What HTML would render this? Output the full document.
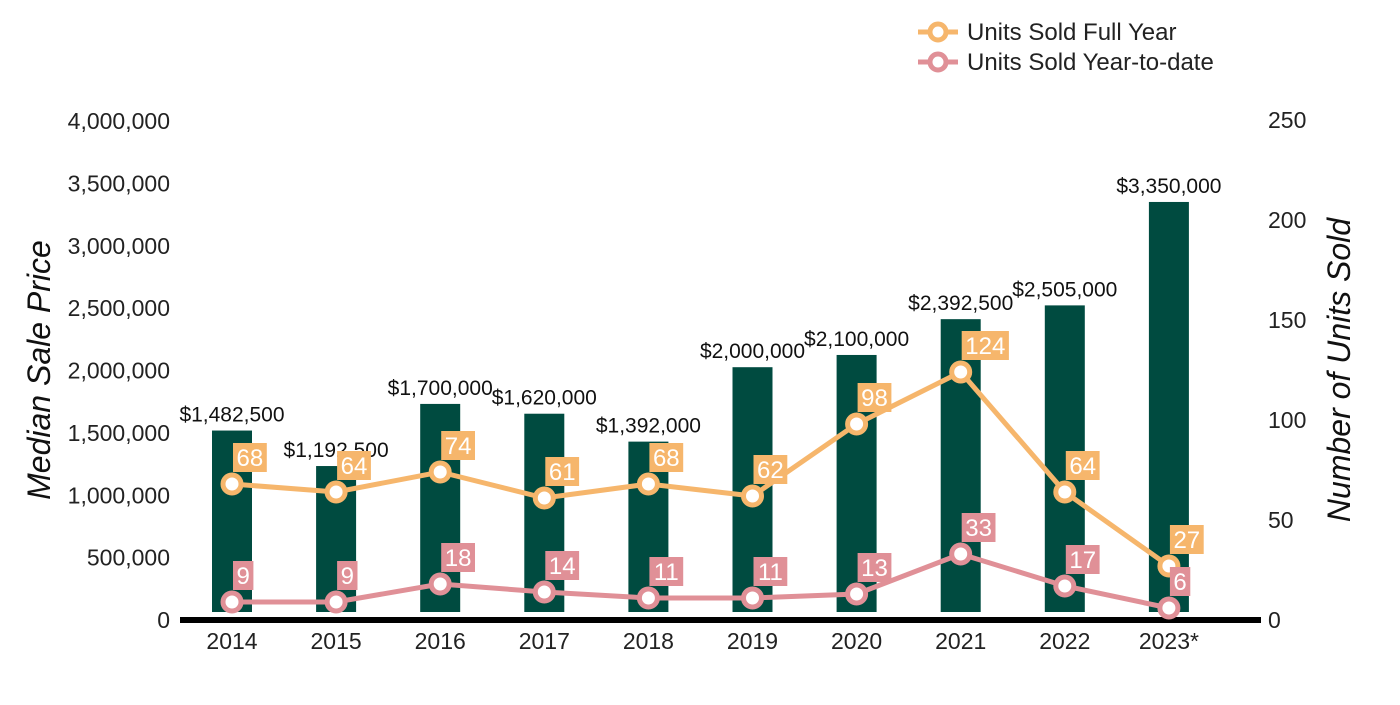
<!DOCTYPE html>
<html><head><meta charset="utf-8"><style>
body{margin:0;background:#fff;}
svg text{font-family:"Liberation Sans",Arial,sans-serif;}
</style></head><body>
<svg id="c" width="1400" height="700" xmlns="http://www.w3.org/2000/svg">
<g id="axes"></g><g id="bars"></g><g id="lines"></g>
<g>
<g>
<line x1="918" y1="32" x2="958" y2="32" stroke="#f6b66c" stroke-width="5"/>
<circle cx="938" cy="32" r="8" fill="#fff" stroke="#f6b66c" stroke-width="5"/>
<text x="967" y="40" font-size="24" fill="#222">Units Sold Full Year</text></g>
<g>
<line x1="918" y1="62" x2="958" y2="62" stroke="#e09097" stroke-width="5"/>
<circle cx="938" cy="62" r="8" fill="#fff" stroke="#e09097" stroke-width="5"/>
<text x="967" y="70" font-size="24" fill="#222">Units Sold Year-to-date</text></g>
</g>
</svg>
<script>
const categories=["2014","2015","2016","2017","2018","2019","2020","2021","2022","2023*"];
const prices=[1482500,1192500,1700000,1620000,1392000,2000000,2100000,2392500,2505000,3350000];
const fullYear=[68,64,74,61,68,62,98,124,64,27];
const ytd=[9,9,18,14,11,11,13,33,17,6];
const leftTicks=[0,500000,1000000,1500000,2000000,2500000,3000000,3500000,4000000];
const rightTicks=[0,50,100,150,200,250];
const NS="http://www.w3.org/2000/svg";
function mk(t,a,p){const e=document.createElementNS(NS,t);for(const k in a)e.setAttribute(k,a[k]);p.appendChild(e);return e;}
const xC=i=>232+i*104.1;
const yTick=v=>620-v*(499/4000000);
const yBar=v=>612-v*(122.4/1000000);
const yR=v=>620-v*2;
const fmt=v=>v.toLocaleString('en-US');
const axes=document.getElementById('axes'),bars=document.getElementById('bars'),lines=document.getElementById('lines');
leftTicks.forEach(v=>{const t=mk('text',{x:170,y:yTick(v)+8,'text-anchor':'end','font-size':23,fill:'#222'},axes);t.textContent=fmt(v);

});
rightTicks.forEach(v=>{const t=mk('text',{x:1268,y:yR(v)+8,'font-size':23,fill:'#222'},axes);t.textContent=v;

});
let t=mk('text',{transform:'translate(50,370) rotate(-90)','text-anchor':'middle','font-size':32,'font-style':'italic',fill:'#111'},axes);t.textContent='Median Sale Price';


t=mk('text',{transform:'translate(1350,370) rotate(-90)','text-anchor':'middle','font-size':32,'font-style':'italic',fill:'#111'},axes);t.textContent='Number of Units Sold';


categories.forEach((c,i)=>{
const b=mk('rect',{x:xC(i)-20,y:yBar(prices[i]),width:40,height:612-yBar(prices[i]),fill:'#004b40'},bars);


const l=mk('text',{x:xC(i),y:yBar(prices[i])-9,'text-anchor':'middle','font-size':21,fill:'#111'},bars);l.textContent='$'+fmt(prices[i]);


const x=mk('text',{x:xC(i),y:649,'text-anchor':'middle','font-size':23,fill:'#222'},axes);x.textContent=c;

});
const ax=mk('rect',{x:180,y:617,width:1081,height:6,fill:'#000'},axes);


function series(vals,col,name){
const p=mk('polyline',{points:vals.map((v,i)=>xC(i)+','+yR(v)).join(' '),fill:'none',stroke:col,'stroke-width':5},lines);


vals.forEach((v,i)=>{const cx=xC(i),cy=yR(v);
const m=mk('circle',{cx:cx,cy:cy,r:9,fill:'#fff',stroke:col,'stroke-width':5},lines);


const w=String(v).length*13.4+7;
const r=mk('rect',{x:cx+1,y:cy-41,width:w,height:29,fill:col},lines);


const tx=mk('text',{x:cx+1+w/2,y:cy-18,'text-anchor':'middle','font-size':24,fill:'#fff'},lines);tx.textContent=v;

});}
series(fullYear,'#f6b66c','full-year');
series(ytd,'#e09097','ytd');
</script>
</body></html>
